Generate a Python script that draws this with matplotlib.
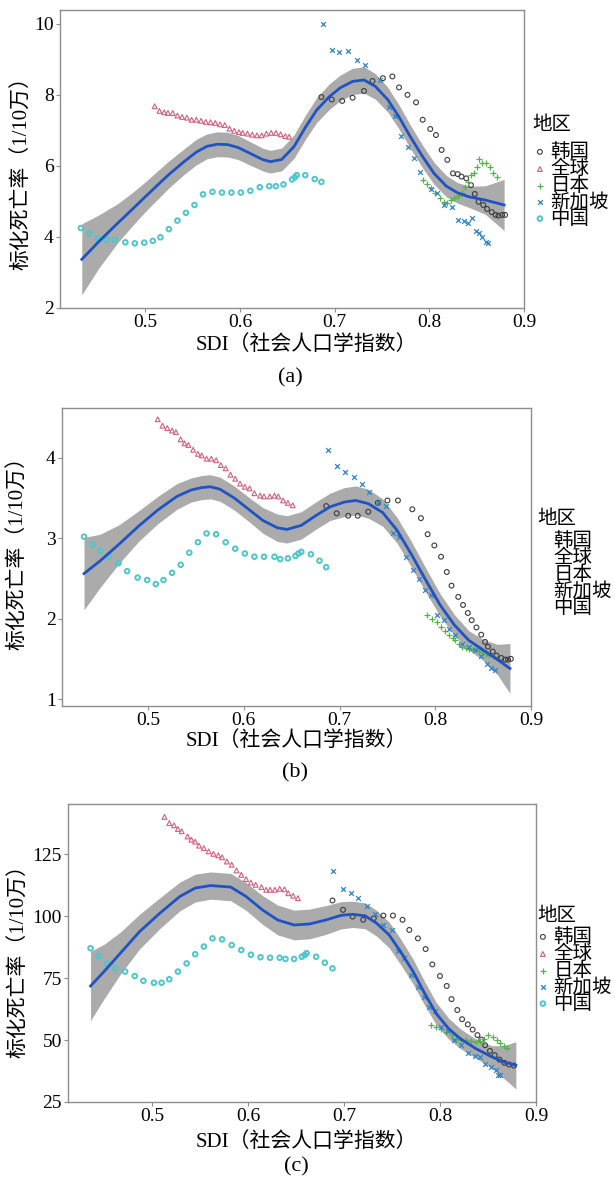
import matplotlib
matplotlib.use('Agg')
import matplotlib.pyplot as plt
import numpy as np

plt.rcParams['font.family'] = ['Liberation Serif', 'Noto Sans CJK SC']

countries = ['韩国', '全球', '日本', '新加坡', '中国']

# ---------------- panel (a) ----------------
korea_x_a = [0.686, 0.697, 0.708, 0.719, 0.731, 0.740, 0.751, 0.761, 0.768, 0.777, 0.786, 0.793, 0.801, 0.807, 0.813,
             0.819, 0.825, 0.830, 0.834, 0.839, 0.844, 0.848, 0.852, 0.857, 0.861, 0.866, 0.870, 0.873, 0.877, 0.880]
korea_y_a = [7.94, 7.87, 7.83, 7.92, 8.11, 8.39, 8.47, 8.52, 8.21, 8.00, 7.79, 7.30, 7.04, 6.87, 6.45,
             6.17, 5.79, 5.77, 5.70, 5.65, 5.46, 5.21, 4.99, 4.90, 4.79, 4.70, 4.62, 4.60, 4.62, 4.62]
global_x_a = [0.510, 0.515, 0.520, 0.524, 0.529, 0.534, 0.539, 0.544, 0.549, 0.554, 0.559, 0.564, 0.569, 0.574, 0.579,
              0.584, 0.589, 0.594, 0.599, 0.603, 0.608, 0.613, 0.618, 0.623, 0.628, 0.633, 0.638, 0.643, 0.648, 0.652]
global_y_a = [7.68, 7.55, 7.51, 7.49, 7.49, 7.42, 7.38, 7.36, 7.30, 7.30, 7.27, 7.24, 7.23, 7.21, 7.17,
              7.15, 7.05, 6.99, 6.95, 6.93, 6.91, 6.88, 6.86, 6.86, 6.91, 6.93, 6.93, 6.89, 6.84, 6.82]
japan_x_a = [0.793, 0.798, 0.802, 0.806, 0.811, 0.815, 0.819, 0.823, 0.826, 0.830, 0.834, 0.838, 0.841, 0.844, 0.847,
             0.850, 0.853, 0.856, 0.860, 0.864, 0.867, 0.871]
japan_y_a = [5.59, 5.49, 5.37, 5.25, 5.09, 4.99, 4.97, 5.04, 5.09, 5.14, 5.25, 5.42, 5.56, 5.75, 5.79,
             5.98, 6.19, 6.08, 6.09, 5.98, 5.79, 5.70]
sing_x_a = [0.688, 0.697, 0.705, 0.714, 0.724, 0.732, 0.748, 0.757, 0.764, 0.770, 0.777, 0.784, 0.790, 0.802, 0.808,
            0.815, 0.824, 0.830, 0.837, 0.841, 0.845, 0.849, 0.853, 0.856, 0.860, 0.862]
sing_y_a = [10.0, 9.27, 9.20, 9.23, 8.99, 8.83, 8.42, 7.67, 7.41, 6.83, 6.54, 6.22, 5.84, 5.34, 5.25,
            4.90, 4.84, 4.48, 4.45, 4.40, 4.53, 4.18, 4.10, 4.01, 3.87, 3.83]
china_x_a = [0.432, 0.441, 0.450, 0.459, 0.468, 0.479, 0.489, 0.499, 0.508, 0.516, 0.525, 0.534, 0.543, 0.552, 0.561,
             0.571, 0.581, 0.591, 0.601, 0.611, 0.621, 0.631, 0.638, 0.646, 0.655, 0.658, 0.660, 0.669, 0.679, 0.686]
china_y_a = [4.25, 4.10, 3.96, 3.92, 3.92, 3.85, 3.82, 3.84, 3.89, 3.99, 4.22, 4.46, 4.68, 4.90, 5.20,
             5.27, 5.25, 5.25, 5.25, 5.30, 5.40, 5.43, 5.43, 5.48, 5.62, 5.68, 5.74, 5.74, 5.63, 5.55]
fit_x_a = [0.433, 0.451, 0.471, 0.486, 0.500, 0.513, 0.525, 0.541, 0.554, 0.565, 0.576, 0.587, 0.598, 0.611, 0.624,
           0.632, 0.644, 0.657, 0.669, 0.681, 0.694, 0.706, 0.719, 0.731, 0.743, 0.756, 0.768, 0.780, 0.793, 0.805,
           0.818, 0.830, 0.842, 0.859, 0.879]
fit_y_a = [3.37, 3.87, 4.39, 4.77, 5.13, 5.46, 5.76, 6.12, 6.39, 6.55, 6.61, 6.60, 6.52, 6.35, 6.18,
           6.12, 6.18, 6.54, 7.08, 7.57, 7.94, 8.20, 8.38, 8.42, 8.24, 7.87, 7.38, 6.82, 6.26, 5.79,
           5.43, 5.24, 5.13, 5.04, 4.90]
ci_a = [1.0, 0.75, 0.55, 0.47, 0.42, 0.40, 0.38, 0.36, 0.36, 0.35, 0.35, 0.35, 0.34, 0.33, 0.32,
        0.32, 0.32, 0.33, 0.34, 0.35, 0.36, 0.36, 0.37, 0.37, 0.36, 0.35, 0.34, 0.33, 0.32, 0.31,
        0.30, 0.29, 0.30, 0.40, 0.72]

# ---------------- panel (b) ----------------
korea_x_b = [0.686, 0.697, 0.709, 0.719, 0.730, 0.740, 0.750, 0.761, 0.776, 0.785, 0.792, 0.799, 0.806, 0.812, 0.817,
             0.824, 0.829, 0.834, 0.838, 0.843, 0.848, 0.852, 0.855, 0.860, 0.864, 0.869, 0.873, 0.876, 0.879]
korea_y_b = [3.40, 3.31, 3.28, 3.28, 3.33, 3.44, 3.47, 3.47, 3.36, 3.25, 3.05, 2.91, 2.77, 2.58, 2.41,
             2.27, 2.17, 2.07, 1.98, 1.89, 1.80, 1.71, 1.65, 1.59, 1.54, 1.51, 1.49, 1.49, 1.50]
global_x_b = [0.510, 0.515, 0.520, 0.525, 0.529, 0.534, 0.538, 0.542, 0.547, 0.552, 0.556, 0.561, 0.566, 0.571, 0.576,
              0.581, 0.586, 0.591, 0.596, 0.601, 0.606, 0.611, 0.617, 0.621, 0.627, 0.632, 0.636, 0.641, 0.646, 0.651]
global_y_b = [4.48, 4.40, 4.37, 4.34, 4.32, 4.23, 4.18, 4.16, 4.10, 4.05, 4.03, 3.99, 3.99, 3.97, 3.91,
              3.87, 3.79, 3.74, 3.68, 3.64, 3.62, 3.56, 3.53, 3.52, 3.52, 3.53, 3.52, 3.47, 3.44, 3.41]
japan_x_b = [0.791, 0.797, 0.802, 0.806, 0.810, 0.814, 0.818, 0.821, 0.825, 0.828, 0.832, 0.835, 0.839, 0.842, 0.846,
             0.849, 0.853, 0.856, 0.860]
japan_y_b = [2.05, 2.00, 1.96, 1.89, 1.85, 1.80, 1.76, 1.73, 1.68, 1.65, 1.63, 1.62, 1.61, 1.62, 1.61,
             1.58, 1.56, 1.55, 1.54]
sing_x_b = [0.688, 0.697, 0.706, 0.715, 0.723, 0.731, 0.740, 0.749, 0.756, 0.762, 0.769, 0.777, 0.783, 0.789, 0.795,
            0.802, 0.809, 0.814, 0.821, 0.828, 0.835, 0.841, 0.848, 0.854, 0.858, 0.862]
sing_y_b = [4.10, 3.90, 3.83, 3.76, 3.68, 3.57, 3.45, 3.40, 3.07, 3.01, 2.77, 2.61, 2.49, 2.36, 2.30,
            2.05, 1.98, 1.87, 1.80, 1.69, 1.65, 1.61, 1.53, 1.44, 1.38, 1.36]
china_x_b = [0.433, 0.442, 0.450, 0.459, 0.469, 0.478, 0.489, 0.499, 0.508, 0.516, 0.525, 0.534, 0.543, 0.552, 0.561,
             0.571, 0.581, 0.591, 0.601, 0.611, 0.621, 0.632, 0.638, 0.646, 0.654, 0.657, 0.660, 0.670, 0.679, 0.686]
china_y_b = [3.02, 2.92, 2.84, 2.77, 2.69, 2.59, 2.51, 2.48, 2.43, 2.48, 2.57, 2.67, 2.82, 2.95, 3.06,
             3.05, 2.95, 2.87, 2.81, 2.77, 2.77, 2.77, 2.74, 2.75, 2.78, 2.81, 2.83, 2.80, 2.72, 2.64]
fit_x_b = [0.433, 0.45, 0.47, 0.49, 0.51, 0.53, 0.545, 0.556, 0.565, 0.575, 0.59, 0.605, 0.62, 0.635, 0.645,
           0.66, 0.675, 0.69, 0.705, 0.717, 0.73, 0.745, 0.76, 0.775, 0.79, 0.805, 0.82, 0.835, 0.85, 0.865, 0.878]
fit_y_b = [2.56, 2.72, 2.93, 3.15, 3.35, 3.52, 3.60, 3.63, 3.64, 3.61, 3.50, 3.36, 3.22, 3.13, 3.11,
           3.16, 3.28, 3.39, 3.45, 3.47, 3.43, 3.32, 3.10, 2.80, 2.48, 2.17, 1.92, 1.73, 1.61, 1.49, 1.38]
ci_b = [0.45, 0.33, 0.24, 0.19, 0.17, 0.16, 0.15, 0.15, 0.15, 0.15, 0.15, 0.15, 0.16, 0.17, 0.17,
        0.17, 0.17, 0.17, 0.18, 0.18, 0.18, 0.17, 0.16, 0.16, 0.15, 0.14, 0.13, 0.12, 0.13, 0.19, 0.31]

# ---------------- panel (c) ----------------
korea_x_c = [0.688, 0.699, 0.709, 0.720, 0.731, 0.741, 0.751, 0.761, 0.768, 0.777, 0.785, 0.792, 0.800, 0.807, 0.812,
             0.818, 0.823, 0.829, 0.834, 0.839, 0.843, 0.847, 0.852, 0.857, 0.862, 0.867, 0.872, 0.877]
korea_y_c = [106.3, 102.5, 99.8, 98.5, 99.1, 100.2, 100.2, 98.5, 94.4, 91.0, 86.7, 80.5, 75.8, 71.8, 66.5,
             62.1, 58.4, 56.3, 54.2, 52.0, 50.2, 47.9, 45.6, 43.9, 42.1, 40.8, 40.1, 39.7]
global_x_c = [0.513, 0.518, 0.523, 0.527, 0.531, 0.537, 0.541, 0.545, 0.549, 0.554, 0.559, 0.564, 0.569, 0.573, 0.578,
              0.583, 0.588, 0.593, 0.598, 0.603, 0.608, 0.614, 0.619, 0.623, 0.628, 0.633, 0.638, 0.642, 0.647, 0.652]
global_y_c = [140.0, 137.5, 136.6, 135.1, 134.2, 132.1, 130.8, 130.0, 128.4, 127.4, 126.1, 125.1, 124.5, 123.7, 122.0,
              120.7, 118.4, 116.6, 114.9, 113.5, 112.6, 111.7, 110.6, 110.6, 110.6, 111.0, 110.8, 109.2, 108.2, 107.2]
japan_x_c = [0.791, 0.796, 0.801, 0.806, 0.812, 0.817, 0.822, 0.827, 0.832, 0.837, 0.842, 0.846, 0.850, 0.855, 0.859,
             0.863, 0.867, 0.870]
japan_y_c = [56.0, 55.1, 54.6, 53.3, 52.0, 50.6, 50.2, 49.9, 49.7, 49.3, 49.7, 50.6, 52.0, 51.3, 50.2,
             48.9, 47.5, 46.6]
sing_x_c = [0.689, 0.699, 0.707, 0.715, 0.724, 0.732, 0.741, 0.750, 0.756, 0.763, 0.770, 0.777, 0.783, 0.789, 0.795,
            0.801, 0.808, 0.815, 0.822, 0.829, 0.836, 0.842, 0.847, 0.853, 0.858, 0.860, 0.862]
sing_y_c = [118.3, 111.0, 109.2, 107.2, 104.1, 100.7, 96.4, 94.4, 86.1, 83.0, 76.2, 71.2, 67.5, 63.4, 61.8,
            55.3, 53.7, 50.2, 47.9, 44.8, 43.6, 43.2, 40.5, 39.2, 37.8, 35.8, 35.8]
china_x_c = [0.436, 0.444, 0.453, 0.462, 0.472, 0.482, 0.491, 0.502, 0.510, 0.518, 0.527, 0.536, 0.545, 0.554, 0.563,
             0.573, 0.583, 0.593, 0.603, 0.613, 0.623, 0.633, 0.639, 0.648, 0.656, 0.659, 0.661, 0.671, 0.680, 0.688]
china_y_c = [87.0, 83.9, 80.9, 78.9, 77.6, 75.8, 73.9, 73.1, 73.1, 74.5, 77.6, 80.9, 84.6, 87.7, 91.0,
             90.6, 88.3, 86.3, 84.4, 83.4, 83.2, 83.2, 82.7, 82.7, 83.6, 84.3, 85.0, 83.6, 81.2, 78.9]
fit_x_c = [0.436, 0.450, 0.467, 0.487, 0.508, 0.529, 0.545, 0.561, 0.582, 0.598, 0.615, 0.631, 0.648, 0.664, 0.681,
           0.697, 0.709, 0.722, 0.734, 0.747, 0.759, 0.772, 0.784, 0.796, 0.809, 0.821, 0.837, 0.854, 0.866, 0.879]
fit_y_c = [71.8, 77.6, 85.0, 93.7, 101.1, 107.9, 111.3, 112.3, 111.7, 107.9, 102.5, 98.4, 96.4, 96.8, 98.4,
           100.3, 100.7, 100.1, 97.1, 92.4, 85.6, 77.6, 68.8, 60.7, 54.6, 50.6, 46.6, 43.2, 41.2, 39.8]
ci_c = [14, 11, 8.5, 7, 6.2, 5.8, 5.6, 5.5, 5.5, 5.6, 5.8, 6, 6, 6, 5.8,
        5.5, 5.3, 5.2, 5.2, 5.2, 5.2, 5, 4.8, 4.5, 4.2, 4, 3.8, 4.5, 6.5, 9.5]

# marker style per country
styles = {
    '韩国': dict(marker='o', facecolors='none', edgecolors='#3c3c3c', s=12, linewidths=0.8),
    '全球': dict(marker='^', facecolors='none', edgecolors='#d0607f', s=12, linewidths=0.8),
    '日本': dict(marker='+', color='#55b04f', s=20, linewidths=0.9),
    '新加坡': dict(marker='x', color='#2f86c8', s=12, linewidths=0.9),
    '中国': dict(marker='o', facecolors='none', edgecolors='#4fc6cb', s=11, linewidths=1.4),
}

W, H = 615, 1184
fig = plt.figure(figsize=(W / 100, H / 100), dpi=100)


def add_ax(left, right, top, bottom):
    return fig.add_axes([left / W, 1 - bottom / H, (right - left) / W, (bottom - top) / H])


def draw_panel(ax, series, fit_x, fit_y, ci, xlim, ylim, yticks, title_xy, leg_xy, show_handles,
               ylab_xy, xlab_xy, cap, cap_xy):
    fx = np.array(fit_x)
    fy = np.array(fit_y)
    half = np.array(ci)
    ax.fill_between(fx, fy - half, fy + half, color='#ababab', lw=0, zorder=1)
    handles = []
    for name, (xs, ys) in zip(countries, series):
        h = ax.scatter(xs, ys, zorder=2, label=name, **styles[name])
        handles.append(h)
    ax.plot(fx, fy, color='#1f53c4', lw=2.0, zorder=3)

    ax.set_xlim(*xlim)
    ax.set_ylim(*ylim)
    ax.set_xticks([0.5, 0.6, 0.7, 0.8, 0.9])
    ax.set_xticklabels(['0.5', '0.6', '0.7', '0.8', '0.9'])
    ax.set_yticks(yticks)
    for sp in ax.spines.values():
        sp.set_color('#8e8e8e')
        sp.set_linewidth(1.0)
    ax.tick_params(colors='#8e8e8e', length=3, width=0.8, labelcolor='black',
                   labelsize=14, pad=1.5)

    ax.set_xlabel('SDI（社会人口学指数）', fontsize=15)
    ax.xaxis.set_label_coords(*xlab_xy)
    ax.xaxis.label.set_va('center')
    ax.set_ylabel('标化死亡率（1/10万）', fontsize=15)
    ax.yaxis.set_label_coords(*ylab_xy)
    ax.yaxis.label.set_va('center')
    ax.yaxis.label.set_ha('center')

    # legend title drawn separately (larger gap under it than between rows)
    fig.text(title_xy[0] / W, 1 - title_xy[1] / H, '地区', ha='left', va='center', fontsize=14)
    leg = ax.legend(handles, countries, loc='upper left',
                    bbox_to_anchor=(leg_xy[0] / W, 1 - leg_xy[1] / H),
                    bbox_transform=fig.transFigure, frameon=False,
                    fontsize=14, handlelength=0.5,
                    handletextpad=0.3, labelspacing=-0.07, borderpad=0,
                    borderaxespad=0)
    if not show_handles:
        for h in leg.legend_handles:
            h.set_visible(False)

    fig.text(cap_xy[0] / W, 1 - cap_xy[1] / H, cap, ha='center', va='center',
             fontsize=16, family='Liberation Serif')


ax_a = add_ax(60, 524, 10, 308)
draw_panel(ax_a,
           [(korea_x_a, korea_y_a), (global_x_a, global_y_a), (japan_x_a, japan_y_a),
            (sing_x_a, sing_y_a), (china_x_a, china_y_a)],
           fit_x_a, fit_y_a, ci_a, (0.41, 0.9), (2, 10.39), [2, 4, 6, 8, 10],
           (532, 125), (535, 143), True, (-0.082, 0.47), (0.53, -0.125), '(a)', (290, 378))

ax_b = add_ax(62, 531, 408, 706)
draw_panel(ax_b,
           [(korea_x_b, korea_y_b), (global_x_b, global_y_b), (japan_x_b, japan_y_b),
            (sing_x_b, sing_y_b), (china_x_b, china_y_b)],
           fit_x_b, fit_y_b, ci_b, (0.41, 0.9), (0.913, 4.62), [1, 2, 3, 4],
           (537, 519), (538, 532), False, (-0.094, 0.53), (0.50, -0.118), '(b)', (295, 773))

ax_c = add_ax(68, 536, 804, 1102)
draw_panel(ax_c,
           [(korea_x_c, korea_y_c), (global_x_c, global_y_c), (japan_x_c, japan_y_c),
            (sing_x_c, sing_y_c), (china_x_c, china_y_c)],
           fit_x_c, fit_y_c, ci_c, (0.4125, 0.9), (25, 145.2), [25, 50, 75, 100, 125],
           (537, 916), (538, 928), True, (-0.103, 0.49), (0.51, -0.134), '(c)', (296, 1167))

fig.savefig('out.png', dpi=100)
